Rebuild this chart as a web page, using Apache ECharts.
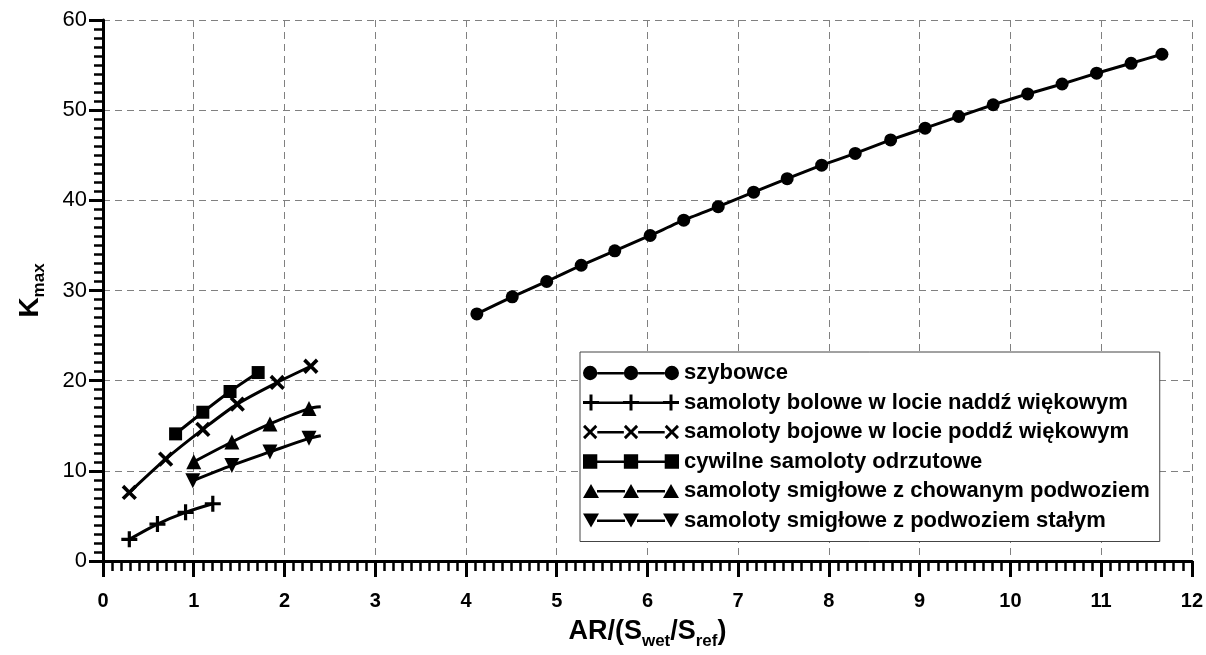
<!DOCTYPE html>
<html lang="pl">
<head>
    <meta charset="utf-8">
    <title>Kmax</title>
    <style>
        html,body{padding:0;margin:0;background:#fff;}
        #chart{width:1206px;height:655px;}
    </style>
</head>
<body>
    <div id="chart"></div>
    <script src="https://cdn.jsdelivr.net/npm/echarts@6/dist/echarts.min.js"></script>
    <script>
        // dane
        const names = [
            'szybowce',
            'samoloty bolowe w locie naddź więkowym',
            'samoloty bojowe w locie poddź więkowym',
            'cywilne samoloty odrzutowe',
            'samoloty smigłowe z chowanym podwoziem',
            'samoloty smigłowe z podwoziem stałym'
        ];
        const szybowceX = [4.12, 4.51, 4.89, 5.27, 5.64, 6.03, 6.40, 6.78, 7.17, 7.54, 7.92, 8.29, 8.68, 9.06, 9.43, 9.81, 10.19, 10.57, 10.95, 11.33, 11.67];
        const szybowceY = [27.4, 29.3, 31.0, 32.8, 34.4, 36.1, 37.8, 39.3, 40.9, 42.4, 43.9, 45.2, 46.7, 48.0, 49.3, 50.6, 51.8, 52.9, 54.1, 55.2, 56.2];
        const naddzwX = [0.29, 0.60, 0.91, 1.21];
        const naddzwY = [2.4, 4.1, 5.4, 6.35];
        const poddzwX = [0.29, 0.69, 1.10, 1.48, 1.92, 2.29];
        const poddzwY = [7.6, 11.3, 14.6, 17.4, 19.8, 21.6];
        const cywilneX = [0.80, 1.10, 1.40, 1.71];
        const cywilneY = [14.1, 16.5, 18.8, 20.9];
        const chowanymX = [1.00, 1.42, 1.84, 2.27, 2.40];
        const chowanymY = [11.0, 13.2, 15.2, 16.9, 17.1];
        const stalymX = [0.99, 1.42, 1.84, 2.27, 2.40];
        const stalymY = [8.9, 10.6, 12.1, 13.6, 13.9];
        // ostatni punkt krzywej bez znacznika
        const tailNoMarker = [false, false, false, false, true, true];

        const xTicks = [0, 1, 2, 3, 4, 5, 6, 7, 8, 9, 10, 11, 12];
        const yTicks = [0, 10, 20, 30, 40, 50, 60];

        const FONT = '"Liberation Sans", Arial, sans-serif';

        // znaczniki
        const plusPath = 'path://M6,0H9V6H15V9H9V15H6V9H0V6H6Z';

        // ikony legendy: linia z trzema znacznikami
        const cxs = [8, 48, 88];
        function seg(a, b) { return 'M' + a + ',7H' + b + 'V9.5H' + a + 'Z'; }
        function lineBetween(h) { return seg(cxs[0] + h, cxs[1] - h) + seg(cxs[1] + h, cxs[2] - h); }
        function icon(shape, h) { return 'path://' + cxs.map(shape).join('') + lineBetween(h); }
        const circ = c => 'M' + (c - 7) + ',8A7,7 0 1,1 ' + (c + 7) + ',8A7,7 0 1,1 ' + (c - 7) + ',8Z';
        const sq = c => 'M' + (c - 7) + ',1H' + (c + 7) + 'V15H' + (c - 7) + 'Z';
        const plus = c => 'M' + (c - 1.5) + ',0H' + (c + 1.5) + 'V6.5H' + (c + 8) + 'V9.5H' + (c + 1.5) + 'V16H' + (c - 1.5) + 'V9.5H' + (c - 8) + 'V6.5H' + (c - 1.5) + 'Z';
        const cross = c => {
            const s = 7, d = 2, y = 8;
            const p = [[-s, -s + d], [-s + d, -s], [0, -d], [s - d, -s], [s, -s + d], [d, 0], [s, s - d], [s - d, s], [0, d], [-s + d, s], [-s, s - d], [-d, 0]];
            return 'M' + p.map(q => (c + q[0]) + ',' + (y + q[1])).join('L') + 'Z';
        };
        const triUp = c => 'M' + c + ',1L' + (c + 8) + ',15L' + (c - 8) + ',15Z';
        const triDown = c => 'M' + (c - 8) + ',1L' + (c + 8) + ',1L' + c + ',15Z';

        const icons = [icon(circ, 7), icon(plus, 8), icon(cross, 7), icon(sq, 7), icon(triUp, 6), icon(triDown, 6)];

        const seriesX = [szybowceX, naddzwX, poddzwX, cywilneX, chowanymX, stalymX];
        const seriesY = [szybowceY, naddzwY, poddzwY, cywilneY, chowanymY, stalymY];
        const symbols = ['circle', plusPath, plusPath, 'rect', 'triangle', 'triangle'];
        const symbolSizes = [13, 16, 18, 13, 15, 15];
        const rotates = [0, 0, 45, 0, 0, 180];

        const series = names.map(function (n, i) {
            const xs = seriesX[i], ys = seriesY[i];
            const data = xs.map(function (x, k) {
                const item = { value: [x, ys[k]] };
                if (tailNoMarker[i] && k === xs.length - 1) item.symbol = 'none';
                return item;
            });
            return {
                name: n,
                type: 'line',
                data: data,
                symbol: symbols[i],
                symbolSize: symbolSizes[i],
                symbolRotate: rotates[i],
                showAllSymbol: true,
                smooth: i === 0 ? 0.15 : 0.3,
                lineStyle: { color: '#000', width: 3 },
                itemStyle: { color: '#000', borderWidth: 0 },
                z: 3
            };
        });

        const chart = echarts.init(document.getElementById('chart'), null, { renderer: 'canvas' });
        chart.setOption({
            animation: false,
            backgroundColor: '#fff',
            grid: { left: 103, right: 14, top: 20, bottom: 88 },
            legend: {
                orient: 'vertical',
                left: 580,
                top: 352,
                padding: [10, 10, 10, 3],
                itemWidth: 96,
                itemHeight: 16,
                itemGap: 7.5,
                borderColor: '#444',
                borderWidth: 1,
                backgroundColor: '#fff',
                data: names.map((n, i) => ({ name: n, icon: icons[i] })),
                textStyle: { fontFamily: FONT, fontSize: 22, fontWeight: 'bold', color: '#000', lineHeight: 22 },
                itemStyle: { color: '#000' }
            },
            xAxis: {
                type: 'value',
                min: xTicks[0],
                max: xTicks[xTicks.length - 1],
                interval: 1,
                name: '{b|AR/(S}{s|wet}{b|/S}{s|ref}{b|)}',
                nameLocation: 'middle',
                nameGap: 53,
                nameTextStyle: {
                    rich: {
                        b: { fontFamily: FONT, fontSize: 27, fontWeight: 'bold', color: '#000', lineHeight: 36 },
                        s: { fontFamily: FONT, fontSize: 17, fontWeight: 'bold', color: '#000', lineHeight: 36, verticalAlign: 'bottom' }
                    }
                },
                axisLine: { show: true, onZero: false, lineStyle: { color: '#000', width: 3 } },
                axisTick: { show: true, inside: false, length: 16, lineStyle: { color: '#000', width: 3 } },
                minorTick: { show: true, splitNumber: 10, length: 10, lineStyle: { color: '#000', width: 2.5 } },
                splitLine: { show: true, lineStyle: { color: '#808080', width: 1, type: [7, 5] } },
                axisLabel: {
                    margin: 30,
                    fontFamily: FONT, fontSize: 20, fontWeight: 'bold', color: '#000',
                    formatter: v => xTicks.indexOf(v) >= 0 ? String(v) : ''
                }
            },
            yAxis: {
                type: 'value',
                min: yTicks[0],
                max: yTicks[yTicks.length - 1],
                interval: 10,
                name: '{b|K}{s|max}',
                nameLocation: 'middle',
                nameRotate: 90,
                nameGap: 55,
                nameTextStyle: {
                    rich: {
                        b: { fontFamily: FONT, fontSize: 28, fontWeight: 'bold', color: '#000', lineHeight: 36 },
                        s: { fontFamily: FONT, fontSize: 17, fontWeight: 'bold', color: '#000', lineHeight: 36, verticalAlign: 'bottom' }
                    }
                },
                axisLine: { show: true, onZero: false, lineStyle: { color: '#000', width: 3 } },
                axisTick: { show: true, inside: false, length: 14, lineStyle: { color: '#000', width: 3 } },
                minorTick: { show: true, splitNumber: 10, length: 9, lineStyle: { color: '#000', width: 2.5 } },
                splitLine: { show: true, lineStyle: { color: '#808080', width: 1, type: [7, 5] } },
                axisLabel: {
                    margin: 16,
                    fontFamily: FONT, fontSize: 22, color: '#000',
                    formatter: v => yTicks.indexOf(v) >= 0 ? String(v) : ''
                }
            },
            series: series
        });
    </script>
</body>
</html>
